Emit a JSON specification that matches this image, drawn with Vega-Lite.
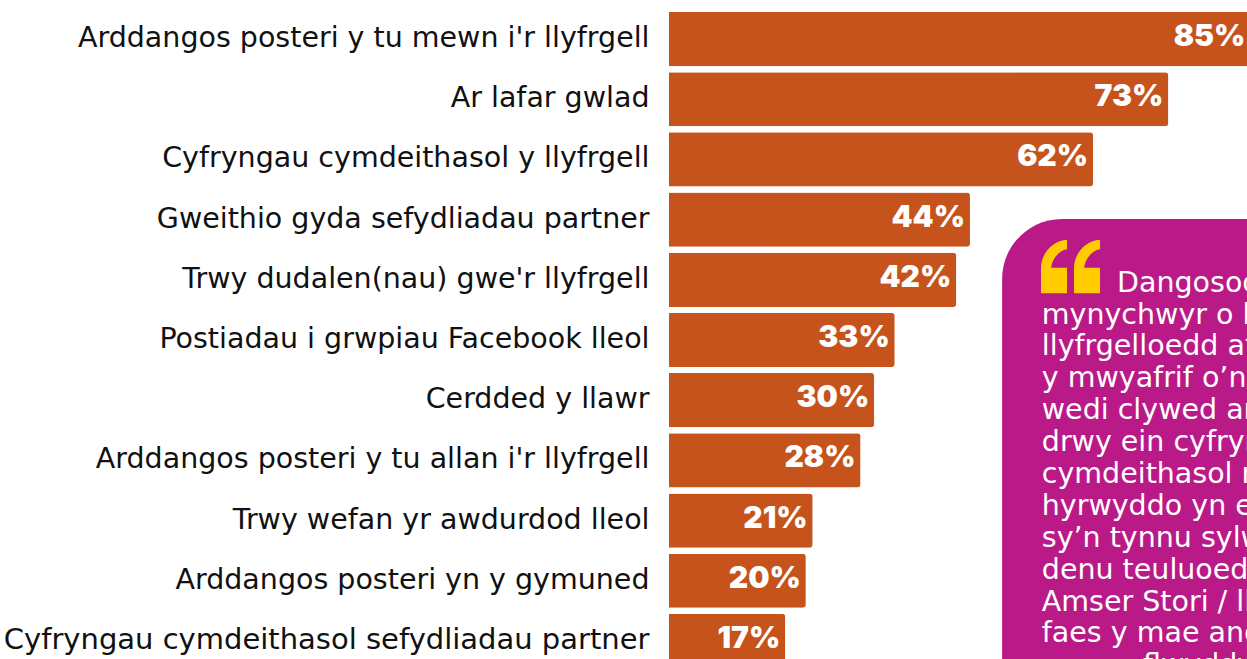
{"$schema":"https://vega.github.io/schema/vega-lite/v6.json","autosize":"none","padding":{"left":669,"top":12,"right":0,"bottom":0},"width":578,"height":656,"background":"white","view":{"stroke":null},
"datasets":{"bars":[{"cat":"Arddangos posteri y tu mewn i'r llyfrgell","pct":0.85},{"cat":"Ar lafar gwlad","pct":0.73},{"cat":"Cyfryngau cymdeithasol y llyfrgell","pct":0.62},{"cat":"Gweithio gyda sefydliadau partner","pct":0.44},{"cat":"Trwy dudalen(nau) gwe'r llyfrgell","pct":0.42},{"cat":"Postiadau i grwpiau Facebook lleol","pct":0.33},{"cat":"Cerdded y llawr","pct":0.30},{"cat":"Arddangos posteri y tu allan i'r llyfrgell","pct":0.28},{"cat":"Trwy wefan yr awdurdod lleol","pct":0.21},{"cat":"Arddangos posteri yn y gymuned","pct":0.20},{"cat":"Cyfryngau cymdeithasol sefydliadau partner","pct":0.17}],
"lines":[{"line":0,"x":0.655,"t":"Dangosodd"},{"line":1,"x":0.545,"t":"mynychwyr o bob"},{"line":2,"x":0.545,"t":"llyfrgelloedd at"},{"line":3,"x":0.545,"t":"y mwyafrif o’n"},{"line":4,"x":0.545,"t":"wedi clywed am"},{"line":5,"x":0.545,"t":"drwy ein cyfryngau"},{"line":6,"x":0.545,"t":"cymdeithasol ni"},{"line":7,"x":0.545,"t":"hyrwyddo yn effeithiol"},{"line":8,"x":0.545,"t":"sy’n tynnu sylw"},{"line":9,"x":0.545,"t":"denu teuluoedd"},{"line":10,"x":0.545,"t":"Amser Stori / llyfrau"},{"line":11,"x":0.545,"t":"faes y mae angen"},{"line":12,"x":0.693,"t":"flwyddyn"}],
"box":[{"x":0.487,"x2":0.95,"y":-2.28,"y2":16}],
"quote":[{"x":0.587,"y":-0.81}]},
"layer":[
{"data":{"name":"bars"},"mark":{"type":"bar","color":"#C5531B","cornerRadiusEnd":3},"encoding":{"y":{"field":"cat","type":"nominal","sort":null,"scale":{"paddingInner":0.1,"paddingOuter":0},"axis":{"title":null,"domain":false,"ticks":false,"labelPadding":20,"labelFont":"DejaVu Sans","labelFontSize":{"condition":{"test":"datum.value==='Cyfryngau cymdeithasol sefydliadau partner'","value":29},"value":28.5},"labelColor":"#111111","labelLimit":700,"labelOffset":-1}},"x":{"field":"pct","type":"quantitative","scale":{"domain":[0,0.845],"nice":false,"zero":true},"axis":null}}},
{"data":{"name":"bars"},"mark":{"type":"text","align":"right","baseline":"middle","dx":-5,"dy":-2,"color":"white","font":"Inter","fontSize":30,"fontWeight":900},"encoding":{"y":{"field":"cat","type":"nominal","sort":null,"scale":{"type":"band","paddingInner":0.1,"paddingOuter":0},"axis":null},"x":{"field":"pct","type":"quantitative"},"text":{"field":"pct","type":"quantitative","format":".0%"}}},
{"data":{"name":"box"},"mark":{"type":"rect","color":"#BA1A87","cornerRadiusTopLeft":60},"encoding":{"x":{"field":"x","type":"quantitative"},"x2":{"field":"x2"},"y":{"field":"y","type":"quantitative","scale":{"domain":[-8.77,11.8],"reverse":true,"nice":false,"zero":false},"axis":null},"y2":{"field":"y2"}}},
{"data":{"name":"quote"},"mark":{"type":"point","filled":true,"opacity":1,"color":"#FFCC00","size":14400,"shape":"M-.492 .456L-.492 .033C-.492 -.2 -.3 -.42 -.058 -.433L-.058 -.278C-.2 -.26 -.31 -.1 -.325 .033L-.058 .033L-.058 .456ZM.058 .456L.058 .033C.058 -.2 .25 -.42 .492 -.433L.492 -.278C.35 -.26 .24 -.1 .225 .033L.492 .033L.492 .456Z"},"encoding":{"x":{"field":"x","type":"quantitative"},"y":{"field":"y","type":"quantitative","scale":{"domain":[-8.77,11.8],"reverse":true,"nice":false,"zero":false},"axis":null}}},
{"data":{"name":"lines"},"mark":{"type":"text","align":"left","baseline":"alphabetic","color":"white","font":"DejaVu Sans","fontSize":28.5},"encoding":{"x":{"field":"x","type":"quantitative"},"y":{"field":"line","type":"quantitative","scale":{"domain":[-8.77,11.8],"reverse":true,"nice":false,"zero":false},"axis":null},"text":{"field":"t"}}}
],
"resolve":{"scale":{"y":"independent"},"axis":{"y":"independent"}},
"config":{"axis":{"grid":false}}}
